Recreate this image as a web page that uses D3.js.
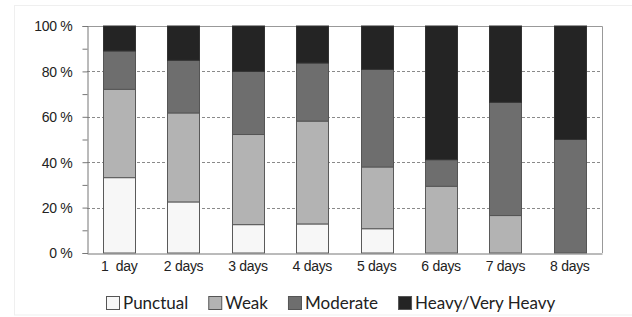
<!DOCTYPE html>
<html lang="en">
<head>
    <meta charset="UTF-8">
    <title>Stacked distribution by days</title>
    <script src="https://d3js.org/d3.v7.min.js"></script>
    <style>
        body {
            margin: 0;
            background: #ffffff;
        }
        svg {
            display: block;
        }
    </style>
</head>
<body>
    <svg id="chart" width="632" height="317"></svg>

    <script>
        const days = ["1  day", "2 days", "3 days", "4 days", "5 days", "6 days", "7 days", "8 days"];
        const levels = ["Punctual", "Weak", "Moderate", "Heavy/Very Heavy"];
        const punctual = [33.2, 22.5, 12.5, 12.8, 10.7, 0, 0, 0];
        const weak = [38.9, 39.2, 39.7, 45.3, 27.2, 29.4, 16.5, 0];
        const moderate = [16.9, 23.2, 27.8, 25.6, 43.0, 11.7, 49.9, 50.0];
        const heavy = [11.0, 15.1, 20.0, 16.3, 19.1, 58.9, 33.6, 50.0];
        const yTicks = [0, 20, 40, 60, 80, 100];

        const colors = ["#f7f7f7", "#b3b3b3", "#6e6e6e", "#242424"];
        const strokes = ["#5a5a5a", "#5a5a5a", "#555555", "#333333"];
        const tickFont = "'Liberation Sans', Arial, sans-serif";

        const svg = d3.select("#chart");
        const margin = {left: 87, right: 30, top: 26, bottom: 64};
        const W = 632, H = 317;

        // faint outer frame
        svg.append("rect")
            .attr("x", 14.5).attr("y", 5.5)
            .attr("width", 640).attr("height", 309.5)
            .attr("fill", "none")
            .attr("stroke", "#efefef");

        const x = d3.scaleBand()
            .domain(days)
            .range([margin.left, W - margin.right])
            .paddingInner(0.5)
            .paddingOuter(0.25);

        const y = d3.scaleLinear()
            .domain([0, 100])
            .range([H - margin.bottom, margin.top]);

        const rows = days.map((d, i) => ({
            day: d,
            Punctual: punctual[i],
            Weak: weak[i],
            Moderate: moderate[i],
            "Heavy/Very Heavy": heavy[i]
        }));
        const series = d3.stack().keys(levels)(rows);

        // gridlines
        svg.append("g")
            .selectAll("line")
            .data(yTicks.filter(t => t > 0 && t < 100))
            .join("line")
            .attr("x1", margin.left).attr("x2", W - margin.right)
            .attr("y1", d => Math.round(y(d)) + 0.5)
            .attr("y2", d => Math.round(y(d)) + 0.5)
            .attr("stroke", "#8a8a8a")
            .attr("stroke-dasharray", "3,2");

        // plot frame top/right
        svg.append("path")
            .attr("d", `M${margin.left},${Math.round(y(100)) + 0.5}H${W - margin.right + 0.5}V${y(0)}`)
            .attr("fill", "none")
            .attr("stroke", "#999");

        // bars
        svg.append("g")
            .selectAll("g")
            .data(series)
            .join("g")
            .attr("fill", (d, i) => colors[i])
            .attr("stroke", (d, i) => strokes[i])
            .selectAll("rect")
            .data(d => d.filter(s => s[1] - s[0] > 0))
            .join("rect")
            .attr("x", d => Math.round(x(d.data.day)) + 0.5)
            .attr("width", Math.round(x.bandwidth()))
            .attr("y", d => y(d[1]))
            .attr("height", d => y(d[0]) - y(d[1]));

        // y axis
        const yAxis = svg.append("g")
            .attr("transform", `translate(${margin.left + 0.5},0)`)
            .call(d3.axisLeft(y)
                .tickValues(d3.range(0, 101, 10))
                .tickSize(5)
                .tickFormat(d => d % 20 === 0 ? d + " %" : ""));
        yAxis.select(".domain").attr("stroke", "#777");
        yAxis.selectAll(".tick line").attr("stroke", "#777");
        yAxis.selectAll(".tick text")
            .attr("x", -15)
            .attr("dy", "0.35em")
            .style("font-family", tickFont)
            .style("font-size", "14px")
            .style("letter-spacing", "-0.3px")
            .style("fill", "#222");

        // x axis
        const xAxis = svg.append("g")
            .attr("transform", `translate(0,${Math.round(y(0)) + 0.5})`)
            .call(d3.axisBottom(x).tickSize(0).tickPadding(0));
        xAxis.select(".domain").attr("stroke", "#777");
        xAxis.selectAll(".tick text")
            .attr("y", 13)
            .attr("dy", "0.35em")
            .style("white-space", "pre")
            .style("font-family", tickFont)
            .style("font-size", "14px")
            .style("letter-spacing", "-0.3px")
            .style("fill", "#222");

        // legend
        const legend = svg.append("g");
        let lx = 106;
        levels.forEach((name, i) => {
            legend.append("rect")
                .attr("x", lx + 0.5).attr("y", 296.5)
                .attr("width", 13).attr("height", 13)
                .attr("fill", colors[i])
                .attr("stroke", "#555");
            const t = legend.append("text")
                .attr("x", lx + 17)
                .attr("y", 303)
                .attr("dy", "0.35em")
                .style("font-family", "Lato, 'Noto Sans', sans-serif")
                .style("font-size", "17px")
                .style("fill", "#222")
                .text(name);
            lx += 17 + t.node().getComputedTextLength() + 20;
        });
    </script>
</body>
</html>
